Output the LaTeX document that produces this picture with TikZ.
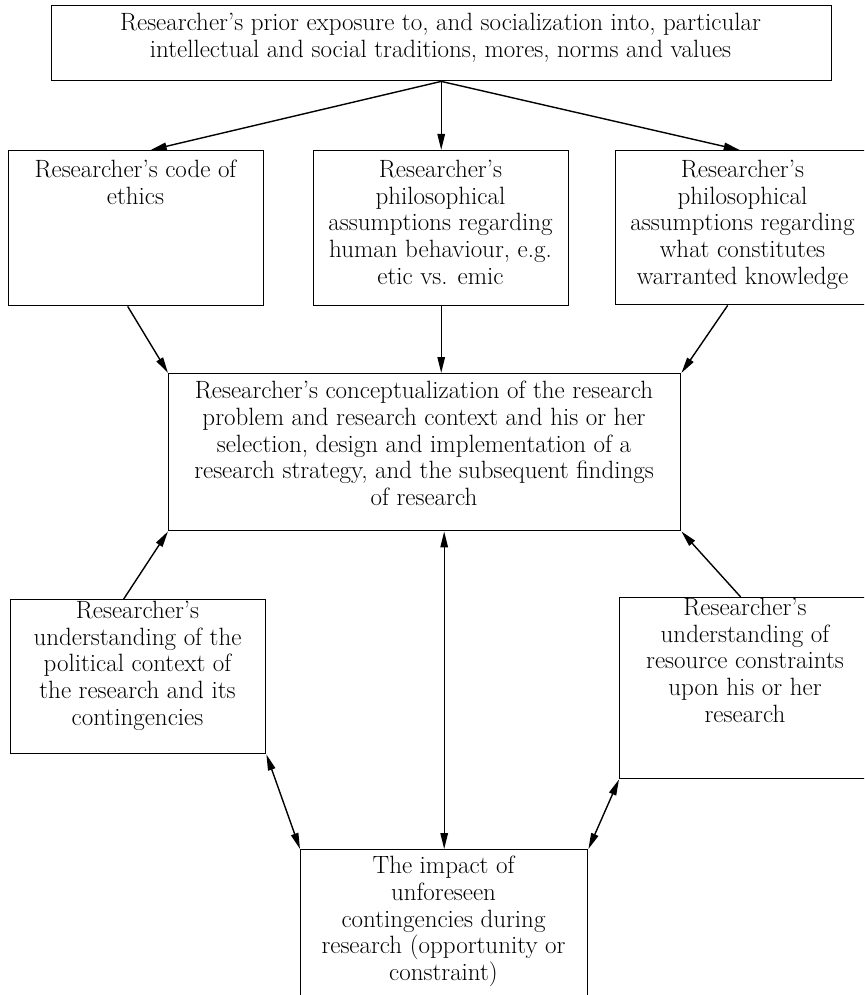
\documentclass[tikz,border=0pt]{standalone}
\usepackage{fontspec}
\usetikzlibrary{arrows.meta}
\begin{document}
\begin{tikzpicture}[x=1pt,y=-1pt,
  box/.style={draw, line width=1.4pt, inner sep=0pt, anchor=north west},
  txt/.style={align=center, inner sep=0pt, anchor=north,
              font=\fontsize{25}{26.7}\selectfont\addfontfeatures{FakeStretch=1.1,FakeBold=0.8}},
  tip/.tip={Triangle[length=16pt,width=7.5pt]},
  conn/.style={line width=1.4pt, -tip},
  both/.style={line width=1.4pt, tip-tip}]
\useasboundingbox (0,0) rectangle (864,995);
\clip (0,0) rectangle (864,995);

% boxes
\node[box, minimum width=780pt, minimum height=75pt]  (top)     at (50.5,5) {};
\node[box, minimum width=255pt, minimum height=155pt] (ethics)  at (8,150) {};
\node[box, minimum width=255pt, minimum height=155pt] (human)   at (313,150) {};
\node[box, minimum width=255pt, minimum height=154pt] (knowl)   at (615,150) {};
\node[box, minimum width=512pt, minimum height=157pt] (central) at (168,373) {};
\node[box, minimum width=255pt, minimum height=154pt] (polit)   at (10,599) {};
\node[box, minimum width=251pt, minimum height=181pt] (resour)  at (619,597) {};
\node[box, minimum width=287pt, minimum height=161pt] (impact)  at (300,849) {};

% texts
\node[txt] (topT) at (440.5,13)
  {Researcher's prior exposure to, and socialization into, particular\\
   intellectual and social traditions, mores, norms and values};
\node[txt] (ethicsT) at (135.5,160) {Researcher's code of\\ ethics};
\node[txt] (humanT) at (440.5,160)
  {Researcher's\\ philosophical\\ assumptions regarding\\ human behaviour, e.g.\\ etic vs. emic};
\node[txt] (knowlT) at (742.5,160)
  {Researcher's\\ philosophical\\ assumptions regarding\\ what constitutes\\ warranted knowledge};
\node[txt] (centralT) at (424,381)
  {Researcher's conceptualization of the research\\
   problem and research context and his or her\\
   selection, design and implementation of a\\
   research strategy, and the subsequent findings\\
   of research};
\node[txt] (politT) at (137.5,601)
  {Researcher's\\ understanding of the\\ political context of\\ the research and its\\ contingencies};
\node[txt] (resourT) at (745,598)
  {Researcher's\\ understanding of\\ resource constraints\\ upon his or her\\ research};
\node[txt] (impactT) at (443.5,856)
  {The impact of\\ unforeseen\\ contingencies during\\ research (opportunity or\\ constraint)};

% connectors
\draw[conn] (top.south) -- ([xshift=14.5pt]ethics.north);
\draw[conn] (top.south) -- (human.north);
\draw[conn] (top.south) -- ([xshift=-3.5pt]knowl.north);

\draw[conn] ([xshift=-8.5pt]ethics.south) -- (central.north west);
\draw[conn] (human.south) -- (human.south |- central.north);
\draw[conn] ([xshift=-15.5pt]knowl.south) -- (central.north east);

\draw[conn] ([xshift=-14.5pt]polit.north) -- (central.south west);
\draw[conn] ([xshift=-4.5pt]resour.north) -- (central.south east);

\draw[both] (polit.south east) -- (impact.north west);
\draw[both] (impact.north |- central.south) -- (impact.north);
\draw[both] (resour.south west) -- (impact.north east);
\end{tikzpicture}
\end{document}
